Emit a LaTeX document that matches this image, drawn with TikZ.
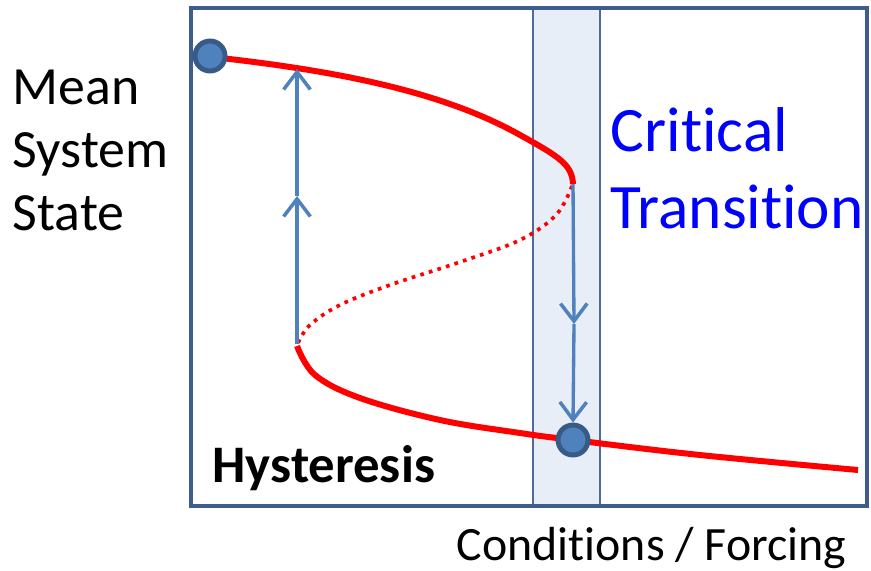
\documentclass[tikz,border=0pt]{standalone}
\usepackage{fontspec}
\setmainfont[Ligatures=NoCommon]{Carlito}
\usetikzlibrary{arrows.meta, positioning}
\definecolor{frmEdge}{RGB}{62,92,140}
\definecolor{bandFill}{RGB}{232,238,247}
\definecolor{bandEdge}{RGB}{80,105,150}
\definecolor{arrBlue}{RGB}{79,129,189}
\definecolor{dotEdge}{RGB}{56,90,135}

\begin{document}
\begin{tikzpicture}[
    x=0.01cm, y=-0.01cm,
    frame/.style={draw=frmEdge, line width=1.2pt},
    band/.style={draw=bandEdge, fill=bandFill, line width=0.5pt},
    branch/.style={draw=red, line width=1.7pt},
    unstable/.style={draw=red, line width=1.05pt, dash pattern=on 1.05pt off 1.5pt},
    arrow/.style={-{Straight Barb[length=5pt, width=7.6pt, line width=1pt]}, draw=arrBlue, line width=0.95pt},
    state/.style={circle, fill=arrBlue, draw=dotEdge, line width=1.4pt, minimum size=0.3cm, inner sep=0pt},
    axlbl/.style={font=\fontsize{15.3}{17.9}\selectfont, align=left, inner sep=0pt},
    crit/.style={font=\fontsize{18}{21.9}\selectfont, text=blue, align=left, inner sep=0pt}
]
\useasboundingbox (0,0) rectangle (871,570);

% --- Faixa da transição crítica ---
\draw[band] (533,8) rectangle (600,506);

% --- Ramos estáveis e instável ---
\draw[branch] (212,57) .. controls (330,70) and (440,90) .. (520,135)
    .. controls (560,157) and (572,165) .. (573,184);
\draw[unstable] plot[smooth, tension=0.6] coordinates
    {(572,186) (556,215) (520,240) (460,262) (390,285) (340,305) (310,325) (298,343)};
\draw[branch] plot[smooth, tension=0.6] coordinates
    {(297,346) (315,375) (360,398) (440,420) (520,433) (573,440) (700,455) (858,470)};

% --- Estados ---
\node[state] (top) at (210,56) {};
\node[state] (bot) at (573,440) {};

% --- Setas de histerese ---
\coordinate (lo) at (297,344);
\coordinate (lmid) at (297,196);
\coordinate (lhi) at (297,69);
\draw[arrow] (lo) -- (lmid);
\draw[arrow] (lmid) -- (lhi);

\coordinate (rhi) at (573,184);
\coordinate (rmid) at (574,324);
\draw[arrow] (rhi) -- (rmid);
\draw[arrow] (rmid) -- (bot.north);

% --- Moldura ---
\draw[frame] (191,8) rectangle (867,506);

% --- Textos ---
\node[axlbl, anchor=west] (ylab) at (12,150) {Mean\\System\\State};
\node[crit, anchor=west] (crit) at (610,168) {Critical\\Transition};
\node[axlbl, font=\fontsize{15}{18}\bfseries\selectfont, anchor=west] (hyst) at (212,468) {Hysteresis};
\node[axlbl, font=\fontsize{13.6}{16}\selectfont, anchor=east] (xlab) at (847,548) {Conditions / Forcing};

\end{tikzpicture}
\end{document}
